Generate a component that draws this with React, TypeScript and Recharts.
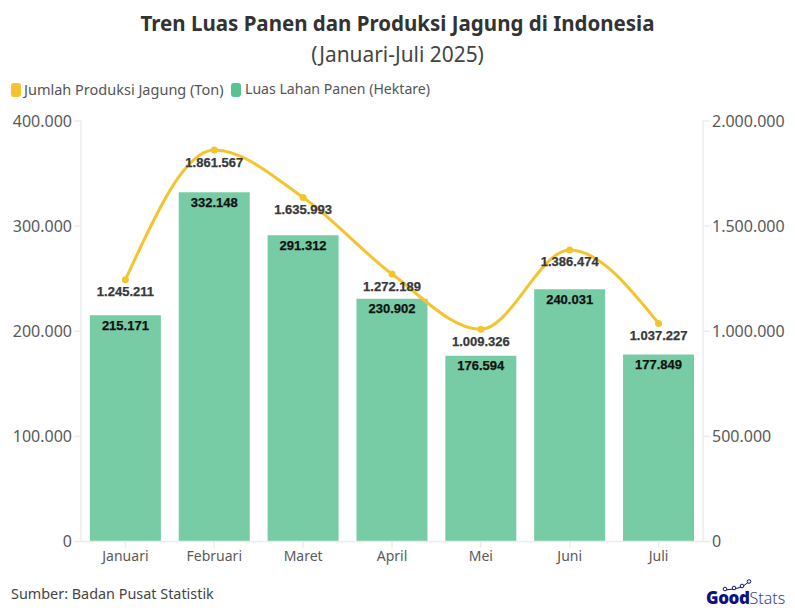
import React from "react";
import { ComposedChart, Bar, Line, XAxis, YAxis, LabelList } from "recharts";

const months = ["Januari", "Februari", "Maret", "April", "Mei", "Juni", "Juli"];
const produksi = [1245211, 1861567, 1635993, 1272189, 1009326, 1386474, 1037227];
const lahan = [215171, 332148, 291312, 230902, 176594, 240031, 177849];
const leftTicks = [0, 100000, 200000, 300000, 400000];
const rightTicks = [0, 500000, 1000000, 1500000, 2000000];

const data = months.map((m, i) => ({ m, produksi: produksi[i], lahan: lahan[i] }));
const fmt = (v: number) => String(v).replace(/\B(?=(\d{3})+(?!\d))/g, ".");

const FONT = "'Noto Sans', sans-serif";
const axisLine = { stroke: "#ececec", strokeWidth: 1.5 };
const tickStyle = { fontFamily: FONT, fontSize: 16, fill: "#5a5a5a" };
const xTickStyle = { fontFamily: FONT, fontSize: 14, fill: "#5a5a5a" };

const LineLabel = (p: any) => (
  <text x={p.x} y={p.y + 12} textAnchor="middle" dominantBaseline="central"
    fontFamily="'Liberation Sans', Arial, sans-serif" fontWeight={700} fontSize={13}
    fill="#383838" stroke="#383838" strokeWidth={0.25}>
    {fmt(p.value)}
  </text>
);
const BarLabel = (p: any) => (
  <text x={p.x + p.width / 2} y={p.y + 10} textAnchor="middle" dominantBaseline="central"
    fontFamily="'Liberation Sans', Arial, sans-serif" fontWeight={700} fontSize={13}
    fill="#111" stroke="#111" strokeWidth={0.25}>
    {fmt(p.value)}
  </text>
);

const abs = (left: number, top: number, extra: React.CSSProperties = {}): React.CSSProperties => ({
  position: "absolute", left, top, fontFamily: FONT, whiteSpace: "nowrap", lineHeight: 1, ...extra,
});

export default function App() {
  return (
    <div style={{ position: "absolute", left: 0, top: 0, width: 795, height: 616, background: "#fff", overflow: "hidden" }}>
      <div style={abs(0, 13, { width: 795, textAlign: "center", fontSize: 20.5, fontWeight: 700, color: "#333" })}>
        Tren Luas Panen dan Produksi Jagung di Indonesia
      </div>
      <div style={abs(0, 44, { width: 795, textAlign: "center", fontSize: 20.9, color: "#444" })}>
        (Januari-Juli 2025)
      </div>
      <div style={abs(11, 83, { width: 10, height: 14, background: "#F4C430", borderRadius: 3 })} />
      <div style={abs(24, 82, { fontSize: 14.5, color: "#555" })}>Jumlah Produksi Jagung (Ton)</div>
      <div style={abs(231, 83, { width: 10, height: 14, background: "#57C292", borderRadius: 3 })} />
      <div style={abs(245, 82, { fontSize: 14.1, color: "#555" })}>Luas Lahan Panen (Hektare)</div>

      <ComposedChart width={795} height={616} data={data}
        margin={{ top: 121, bottom: 44.5, left: 0, right: 0 }}
        barCategoryGap="10%" style={{ position: "absolute", left: 0, top: 0 }}>
        <XAxis dataKey="m" axisLine={axisLine} tickLine={axisLine} tickSize={6} tickMargin={4} tick={xTickStyle} interval={0} height={30} />
        <YAxis yAxisId="l" width={81} domain={[0, 400000]} ticks={leftTicks} tickFormatter={fmt}
          axisLine={axisLine} tickLine={axisLine} tickSize={7} tick={tickStyle} />
        <YAxis yAxisId="r" orientation="right" width={92} domain={[0, 2000000]} ticks={rightTicks} tickFormatter={fmt}
          axisLine={axisLine} tickLine={axisLine} tickSize={7} tick={tickStyle} />
        <Bar yAxisId="l" dataKey="lahan" fill="#77CCA6" isAnimationActive={false}>
          <LabelList dataKey="lahan" content={BarLabel} />
        </Bar>
        <Line yAxisId="r" dataKey="produksi" type="monotone" stroke="#F4C430" strokeWidth={3}
          dot={{ r: 3.5, fill: "#F4C430", stroke: "#F4C430", strokeWidth: 0 }} isAnimationActive={false}>
          <LabelList dataKey="produksi" content={LineLabel} />
        </Line>
      </ComposedChart>

      <div style={abs(11, 587, { fontSize: 14.4, color: "#444" })}>Sumber: Badan Pusat Statistik</div>
      <div style={abs(706, 589, { fontSize: 17, fontWeight: 900, color: "#0b1280", letterSpacing: -0.4 })}>
        Good<span style={{ fontWeight: 300, fontSize: 16, color: "#3a4299", letterSpacing: 0 }}>Stats</span>
      </div>
      <svg width={40} height={14} style={{ position: "absolute", left: 718, top: 579 }}>
        <polyline points="7,11 16,10 24,8 32,2" fill="none" stroke="#0b1280" strokeWidth={1} />
        <circle cx={7} cy={10} r={1.8} fill="#fff" stroke="#0b1280" />
        <circle cx={16} cy={9} r={1.8} fill="#fff" stroke="#0b1280" />
        <circle cx={24} cy={7} r={1.8} fill="#fff" stroke="#0b1280" />
        <circle cx={31} cy={2.5} r={1.8} fill="#fff" stroke="#0b1280" />
      </svg>
    </div>
  );
}
